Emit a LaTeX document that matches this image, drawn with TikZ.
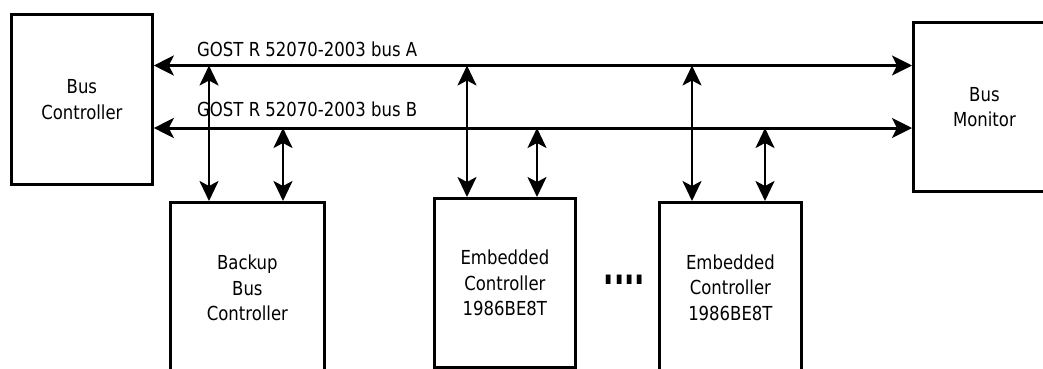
\documentclass[tikz,border=0pt]{standalone}
\usepackage{fontspec}
\setmainfont{DejaVu Sans}
\newfontfamily\diagfont{DejaVu Sans}[FakeStretch=0.855]
\usetikzlibrary{arrows.meta}
\begin{document}
\begin{tikzpicture}[x=1pt,y=-1pt,
  box/.style={draw=black, line width=2.8pt, anchor=north west, inner sep=0pt,
    align=center, font=\diagfont\fontsize{19.3}{25.5}\selectfont},
  bus/.style={line width=3pt, {Stealth[length=20pt,width=20pt,inset=5pt]}-{Stealth[length=20pt,width=20pt,inset=5pt]}},
  tap/.style={line width=2.6pt, {Stealth[length=20pt,width=19pt,inset=5pt]}-{Stealth[length=20pt,width=19pt,inset=5pt]}},
  lab/.style={anchor=west, inner sep=0pt, font=\diagfont\fontsize{19.3}{22}\selectfont}]
\useasboundingbox (0,0) rectangle (1043,368);
% boxes
\node[box, minimum width=141pt, minimum height=170pt] (bc) at (10,13) {Bus\\Controller};
\node[box, minimum width=142pt, minimum height=169pt] (bm) at (912,21) {Bus\\Monitor};
\node[box, minimum width=154pt, minimum height=171pt] (bk) at (169,201) {Backup\\Bus\\Controller};
\node[box, minimum width=141pt, minimum height=169pt] (ec1) at (433,197) {Embedded\\Controller\\1986BE8T};
\node[box, minimum width=142pt, minimum height=170pt] (ec2) at (658,201) {Embedded\\Controller\\1986BE8T};
% bus labels
\node[lab] (labA) at (197,49) {GOST R 52070-2003 bus A};
\node[lab] (labB) at (197,109) {GOST R 52070-2003 bus B};
% ellipsis
\node[inner sep=0pt, font=\fontsize{27}{27}\selectfont\bfseries] (dots) at (624.5,280) {\scalebox{1}[1.85]{....}};
% bus coordinates
\coordinate (ya) at (0,65.5);
\coordinate (yb) at (0,128);
\draw[bus] (bc.east |- ya) -- (bm.west |- ya);
\draw[bus] (bc.east |- yb) -- (bm.west |- yb);
% taps
\coordinate (t1) at (209,65.5);
\coordinate (t2) at (283,128);
\coordinate (t3) at (467,65.5);
\coordinate (t4) at (537,128);
\coordinate (t5) at (692,65.5);
\coordinate (t6) at (765,128);
\draw[tap] (t1) -- (t1 |- bk.north);
\draw[tap] (t2) -- (t2 |- bk.north);
\draw[tap] (t3) -- (t3 |- ec1.north);
\draw[tap] (t4) -- (t4 |- ec1.north);
\draw[tap] (t5) -- (t5 |- ec2.north);
\draw[tap] (t6) -- (t6 |- ec2.north);
\end{tikzpicture}
\end{document}
